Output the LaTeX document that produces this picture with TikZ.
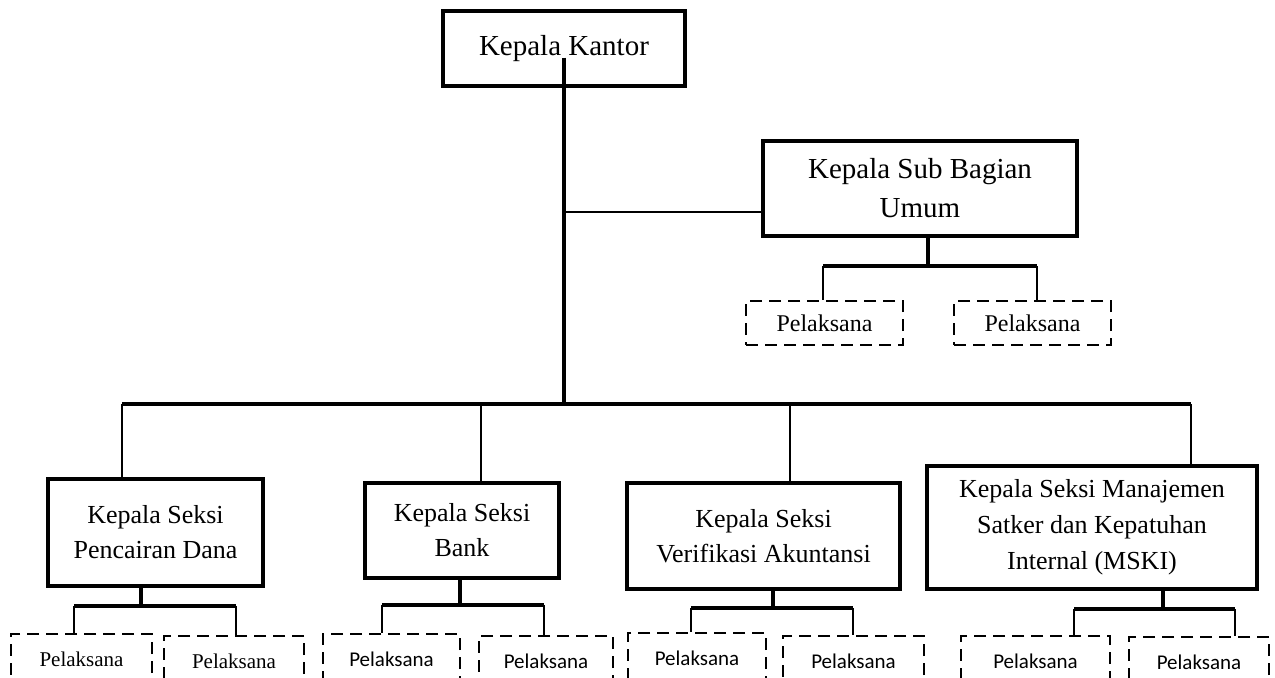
\documentclass[tikz,border=0pt]{standalone}
\usepackage{fontspec}
\setmainfont{Liberation Serif}
\setsansfont{Carlito}
\usetikzlibrary{positioning}

\begin{document}
\begin{tikzpicture}[
        x=0.5pt, y=-0.5pt,
        every node/.style={rectangle, align=center, inner sep=0pt},
        kepala/.style={draw, line width=1.8pt, font=\fontsize{14.5}{19.5}\selectfont},
        seksi/.style={draw, line width=1.8pt, font=\fontsize{13}{17.5}\selectfont},
        pelaksana/.style={draw, line width=1.2pt, dash pattern=on 6pt off 3.5pt, minimum height=25pt, font=\fontsize{10.5}{12}\selectfont},
        pelaksanasf/.style={pelaksana, font=\sffamily\fontsize{10.5}{12}\selectfont},
        trunk/.style={line width=1.6pt},
        link/.style={line width=0.7pt}
    ]
        \useasboundingbox (0,0) rectangle (1275,677);

        % Kepala Kantor
        \node[kepala, minimum width=121pt, minimum height=37.5pt] (kantor) at (564,48.5) {Kepala Kantor};

        % Sub Bagian Umum
        \node[kepala, minimum width=157pt, minimum height=47.5pt] (subbag) at (920,188.5) {Kepala Sub Bagian\\Umum};
        \node[pelaksana, minimum width=78.5pt, minimum height=22pt, font=\fontsize{12}{14}\selectfont] (subbag-l) at (824.5,323) {Pelaksana};
        \node[pelaksana, minimum width=78.5pt, minimum height=22pt, font=\fontsize{12}{14}\selectfont] (subbag-r) at (1032.5,323) {Pelaksana};

        % Seksi
        \node[seksi, minimum width=107.5pt, minimum height=53.5pt] (pencairan) at (155.5,532.5) {Kepala Seksi\\Pencairan Dana};
        \node[seksi, minimum width=97pt, minimum height=47.5pt] (bank) at (462,530.5) {Kepala Seksi\\Bank};
        \node[seksi, minimum width=136.5pt, minimum height=53pt] (verifikasi) at (763.5,536) {Kepala Seksi\\Verifikasi Akuntansi};
        \node[seksi, minimum width=165pt, minimum height=61.5pt, font=\fontsize{13}{18}\selectfont] (mski) at (1092,527.5) {Kepala Seksi Manajemen\\Satker dan Kepatuhan\\Internal (MSKI)};

        % Pelaksana
        \node[pelaksana, minimum width=70.5pt] (pencairan-l) at (81.5,659) {Pelaksana};
        \node[pelaksana, minimum width=70pt] (pencairan-r) at (234,661) {Pelaksana};
        \node[pelaksanasf, minimum width=68.5pt] (bank-l) at (391.5,659) {Pelaksana};
        \node[pelaksanasf, minimum width=67pt] (bank-r) at (546,661) {Pelaksana};
        \node[pelaksanasf, minimum width=69pt] (verifikasi-l) at (697,658) {Pelaksana};
        \node[pelaksanasf, minimum width=70.5pt] (verifikasi-r) at (853.5,661) {Pelaksana};
        \node[pelaksanasf, minimum width=74.5pt] (mski-l) at (1035.5,661) {Pelaksana};
        \node[pelaksanasf, minimum width=70pt] (mski-r) at (1199,662) {Pelaksana};

        % Garis utama
        \coordinate (bus-l) at (122,404);
        \coordinate (bus-r) at (1191,404);
        \coordinate (tap) at (564,212);
        \draw[trunk] ([yshift=-4.5pt]kantor.center) -- (kantor.center |- bus-l);
        \draw[trunk] (bus-l) -- (bus-r);
        \draw[link] (tap) -- (tap -| subbag.west);

        \foreach \unit/\dx in {pencairan/122, bank/481, verifikasi/790, mski/1191} {
            \coordinate (drop) at (\dx,404);
            \draw[link] (drop) -- (drop |- \unit.north);
        }

        % Cabang ke pelaksana
        \foreach \unit/\sx/\lx/\rx/\fy in {subbag/928/823/1037/266, pencairan/141/74/236/606,
                                          bank/460/382/544/605, verifikasi/773/691/853/608, mski/1163/1074/1235/609} {
            \coordinate (fork) at (\sx,\fy);
            \coordinate (fork-l) at (\lx,\fy);
            \coordinate (fork-r) at (\rx,\fy);
            \draw[trunk] (fork |- \unit.south) -- (fork);
            \draw[trunk] (fork-l) -- (fork-r);
            \draw[link] (fork-l) -- (fork-l |- \unit-l.north);
            \draw[link] (fork-r) -- (fork-r |- \unit-r.north);
        }
    \end{tikzpicture}
\end{document}
